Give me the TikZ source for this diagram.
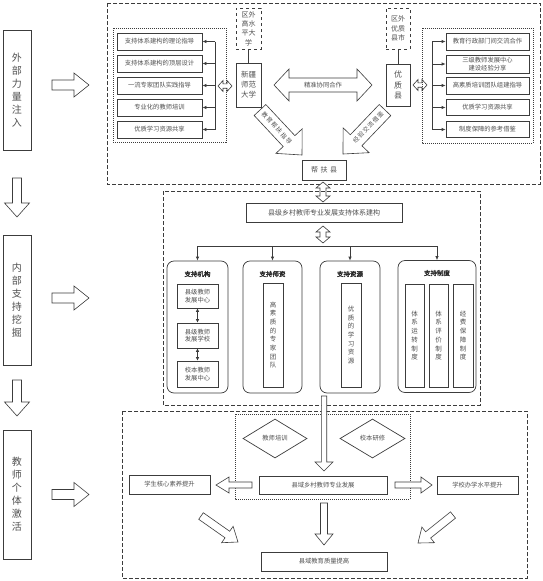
\documentclass[tikz,border=0pt]{standalone}
\usepackage{fontspec}
\setmainfont{Noto Sans CJK SC}[AutoFakeBold=2]
\usetikzlibrary{calc,arrows.meta,shapes.geometric}
\definecolor{ln}{HTML}{3C3C3C}
\definecolor{tx}{HTML}{505050}
\tikzset{
  bx/.style={draw=ln, line width=0.7pt, text=tx, inner sep=0pt, align=center, rectangle},
  rbx/.style={bx, rounded corners=7pt},
  sz/.style 2 args={minimum width=#1pt, minimum height=#2pt},
  fa/.style={font=\fontsize{6.3}{7.6}\selectfont},
  fb/.style={font=\fontsize{7}{9.3}\selectfont},
  fbig/.style={font=\fontsize{10}{13}\selectfont},
  fv/.style={font=\fontsize{6.5}{8.7}\selectfont},
  ft/.style={font=\bfseries\fontsize{6.5}{8}\selectfont, text=black!85},
  dframe/.style={draw=ln, line width=0.7pt, dash pattern=on 4pt off 2pt},
  tframe/.style={draw=ln, line width=0.6pt, dash pattern=on 1pt off 1pt},
  conn/.style={draw=ln, line width=0.7pt, -{Latex[length=4pt,width=3.5pt]}},
  dconn/.style={draw=ln, line width=0.7pt, {Latex[length=3.5pt,width=3.5pt]}-{Latex[length=3.5pt,width=3.5pt]}},
  blk/.style={draw=ln, line width=0.6pt, fill=white, line join=miter},
}
% single block arrow: start, end, shaft half, head half, head length
\newcommand\blockarrow[5]{%
  \coordinate (baH) at ($(#2)!#5!(#1)$);
  \draw[blk] ($(#1)!#3!90:(#2)$) -- ($(baH)!#3!90:(#2)$) -- ($(baH)!#4!90:(#2)$) -- (#2)
    -- ($(baH)!#4!-90:(#2)$) -- ($(baH)!#3!-90:(#2)$) -- ($(#1)!#3!-90:(#2)$) -- cycle;}
% double block arrow
\newcommand\dblarrow[5]{%
  \coordinate (dbA) at ($(#1)!#5!(#2)$);
  \coordinate (dbB) at ($(#2)!#5!(#1)$);
  \draw[blk] (#1) -- ($(dbA)!#4!90:(#2)$) -- ($(dbA)!#3!90:(#2)$) -- ($(dbB)!#3!-90:(#1)$)
    -- ($(dbB)!#4!-90:(#1)$) -- (#2) -- ($(dbB)!#4!90:(#1)$) -- ($(dbB)!#3!90:(#1)$)
    -- ($(dbA)!#3!-90:(#2)$) -- ($(dbA)!#4!-90:(#2)$) -- cycle;}
\begin{document}
\begin{tikzpicture}[x=1pt,y=-1pt]
\useasboundingbox (0,0) rectangle (543,581);
\fill[white] (0,0) rectangle (543,581);

% ---------- left column ----------
\node[bx,sz={28}{120},fbig] (WB) at (17,90) {外\\部\\力\\量\\注\\入};
\node[bx,sz={28}{130},fbig] (NB) at (17,300) {内\\部\\支\\持\\挖\\掘};
\node[bx,sz={28}{129},fbig] (JB) at (17,494.5) {教\\师\\个\\体\\激\\活};
\coordinate (d1s) at (17,178); \coordinate (d1e) at (17,217);
\blockarrow{d1s}{d1e}{4.5pt}{12.5pt}{14pt}
\coordinate (d2s) at (17,380); \coordinate (d2e) at (17,416);
\blockarrow{d2s}{d2e}{4.5pt}{12.5pt}{14pt}
\coordinate (r1s) at (52,85); \coordinate (r1e) at (89,85);
\blockarrow{r1s}{r1e}{5pt}{12pt}{15pt}
\coordinate (r2s) at (52,298); \coordinate (r2e) at (89,298);
\blockarrow{r2s}{r2e}{5pt}{12pt}{15pt}
\coordinate (r3s) at (52,494.5); \coordinate (r3e) at (89,494.5);
\blockarrow{r3s}{r3e}{5pt}{12pt}{15pt}

% ---------- top section ----------
\draw[dframe] (107,3) rectangle (540,184);
\draw[tframe] (113,28) rectangle (226,142);
\node[bx,sz={85}{17},fa] (L1) at (159.5,41.5) {支持体系建构的理论指导};
\node[bx,sz={85}{17},fa] (L2) at (159.5,63.5) {支持体系建构的顶层设计};
\node[bx,sz={85}{17},fa] (L3) at (159.5,85.5) {一流专家团队实践指导};
\node[bx,sz={85}{17},fa] (L4) at (159.5,107.5) {专业化的教师培训};
\node[bx,sz={85}{17},fa] (L5) at (159.5,129.5) {优质学习资源共享};
\coordinate (lv) at (215,0);
\draw[draw=ln,line width=0.7pt] (L1.east -| lv) -- (L5.east -| lv);
\foreach \i in {1,...,5} \draw[conn] (L\i.east -| lv) -- (L\i.east);
\coordinate (sa1) at (218,86); \coordinate (sa2) at (232,86);
\dblarrow{sa1}{sa2}{2.2pt}{5.5pt}{5pt}

\node[bx,dashed,sz={25}{41},fb] (QW1) at (248.5,28.5) {区外\\高水\\平大\\学};
\node[bx,sz={25}{44},font=\fontsize{7.5}{10}\selectfont] (XJ) at (248.5,85) {新疆\\师范\\大学};
\draw[draw=ln,line width=0.7pt] (QW1) -- (XJ);

\node[bx,dashed,sz={24}{41},fb] (QW2) at (398,28.5) {区外\\优质\\县市};
\node[bx,sz={24}{42},font=\fontsize{8}{10.5}\selectfont] (YZ) at (398,85) {优\\质\\县};
\draw[draw=ln,line width=0.7pt] (QW2) -- (YZ);
\coordinate (sa3) at (413,85); \coordinate (sa4) at (427,85);
\dblarrow{sa3}{sa4}{2.2pt}{5.5pt}{5pt}

\draw[tframe] (422,28) rectangle (533,143);
\node[bx,sz={83}{17},fa] (R1) at (487.5,41.5) {教育行政部门间交流合作};
\node[bx,sz={83}{18},fa] (R2) at (487.5,64) {三级教师发展中心\\建设经验分享};
\node[bx,sz={83}{17},fa] (R3) at (487.5,85.5) {高素质培训团队组建指导};
\node[bx,sz={83}{16},fa] (R4) at (487.5,107.5) {优质学习资源共享};
\node[bx,sz={83}{16},fa] (R5) at (487.5,129.5) {制度保障的参考借鉴};
\coordinate (rv) at (432,0);
\draw[draw=ln,line width=0.7pt] (R1.west -| rv) -- (R5.west -| rv);
\foreach \i in {1,...,5} \draw[conn] (R\i.west -| rv) -- (R\i.west);

\coordinate (jz1) at (274,85); \coordinate (jz2) at (372,85);
\dblarrow{jz1}{jz2}{7pt}{16pt}{15pt}
\node[fa,text=tx] (JZ) at (323,85) {精准协同合作};

\coordinate (dg1s) at (260,110); \coordinate (dg1e) at (302,155);
\blockarrow{dg1s}{dg1e}{8pt}{18pt}{19pt}
\node[font=\fontsize{6}{7}\selectfont,text=tx,rotate=-47] (DG1) at ($(dg1s)!0.4!(dg1e)$) {教\,育\,帮\,扶\,指\,导};
\coordinate (dg2s) at (385,110); \coordinate (dg2e) at (343,154);
\blockarrow{dg2s}{dg2e}{8pt}{18pt}{19pt}
\node[font=\fontsize{6}{7}\selectfont,text=tx,rotate=46] (DG2) at ($(dg2s)!0.4!(dg2e)$) {经\,验\,交\,流\,借\,鉴};

\node[bx,sz={44}{20},fb] (BF) at (324,170) {帮\hspace{2.5pt}扶\hspace{2.5pt}县};
\coordinate (vd1) at (323,182); \coordinate (vd2) at (323,202);
\dblarrow{vd1}{vd2}{3pt}{7pt}{6pt}

% ---------- middle section ----------
\draw[dframe] (163,191) rectangle (480,405);
\node[bx,sz={156}{19},fb] (T) at (324,212.5) {县级乡村教师专业发展支持体系建构};
\coordinate (vd3) at (323,226); \coordinate (vd4) at (323,243);
\dblarrow{vd3}{vd4}{3pt}{7pt}{6pt}
\coordinate (hl) at (0,246);
\node[rbx,sz={61}{132}] (S1) at (197.5,327) {};
\node[rbx,sz={59}{132}] (S2) at (272.5,327) {};
\node[rbx,sz={60}{132}] (S3) at (350,327) {};
\node[rbx,sz={78}{132}] (S4) at (437,326.5) {};
\draw[draw=ln,line width=0.7pt] (S1.north |- hl) -- (S4.north |- hl);
\foreach \i in {1,...,4} \draw[conn] (S\i.north |- hl) -- (S\i.north);
\node[ft] (S1t) at (197.5,274) {支持机构};
\node[ft] (S2t) at (272.5,274) {支持师资};
\node[ft] (S3t) at (350,274) {支持资源};
\node[ft] (S4t) at (437,273) {支持制度};
\node[bx,sz={41}{24},fa] (J1) at (197.5,296) {县级教师\\发展中心};
\node[bx,sz={41}{25},fa] (J2) at (197.5,335.5) {县级教师\\发展学校};
\node[bx,sz={41}{26},fa] (J3) at (197.5,374) {校本教师\\发展中心};
\draw[dconn] (J1) -- (J2);
\draw[dconn] (J2) -- (J3);
\node[bx,sz={20}{104},fv] (SZ) at (273,335) {高\\素\\质\\的\\专\\家\\团\\队};
\node[bx,sz={20}{104},fv] (ZY) at (351,335) {优\\质\\的\\学\\习\\资\\源};
\node[bx,sz={19}{103},fv] (ZD1) at (414.5,335.5) {体\\系\\运\\转\\制\\度};
\node[bx,sz={19}{103},fv] (ZD2) at (438.5,335.5) {体\\系\\评\\价\\制\\度};
\node[bx,sz={20}{103},fv] (ZD3) at (463,335.5) {经\\费\\保\\障\\制\\度};

% ---------- bottom section ----------
\draw[dframe] (122,411) rectangle (527,578);
\draw[tframe] (235,414) rectangle (410,499);
\node[bx,diamond,minimum width=64pt,minimum height=39pt,fa] (PX) at (275,438.5) {教师培训};
\node[bx,diamond,minimum width=65pt,minimum height=39pt,fa] (YX) at (372.5,438.5) {校本研修};
\coordinate (la1) at (324,396); \coordinate (la2) at (324,471);
\blockarrow{la1}{la2}{2.7pt}{9pt}{9pt}
\node[bx,sz={128}{18},fa] (FZ) at (323,485) {县域乡村教师专业发展};
\node[bx,sz={81}{19},fa] (XS) at (169.5,484.5) {学生核心素养提升};
\node[bx,sz={81}{18},fa] (XX) at (477.5,485) {学校办学水平提升};
\node[bx,sz={126}{19},fa] (ZL) at (324,561.5) {县域教育质量提高};
\coordinate (b1s) at (252,485); \coordinate (b1e) at (216,485);
\blockarrow{b1s}{b1e}{3pt}{8pt}{13pt}
\coordinate (b2s) at (395,485); \coordinate (b2e) at (432,485);
\blockarrow{b2s}{b2e}{3pt}{8pt}{11pt}
\coordinate (b3s) at (324,503); \coordinate (b3e) at (324,545);
\blockarrow{b3s}{b3e}{3.5pt}{9pt}{11pt}
\coordinate (b4s) at (201,516); \coordinate (b4e) at (238,542);
\blockarrow{b4s}{b4e}{4pt}{10pt}{13pt}
\coordinate (b5s) at (453,515); \coordinate (b5e) at (418,543);
\blockarrow{b5s}{b5e}{4pt}{10pt}{13pt}
\end{tikzpicture}
\end{document}
